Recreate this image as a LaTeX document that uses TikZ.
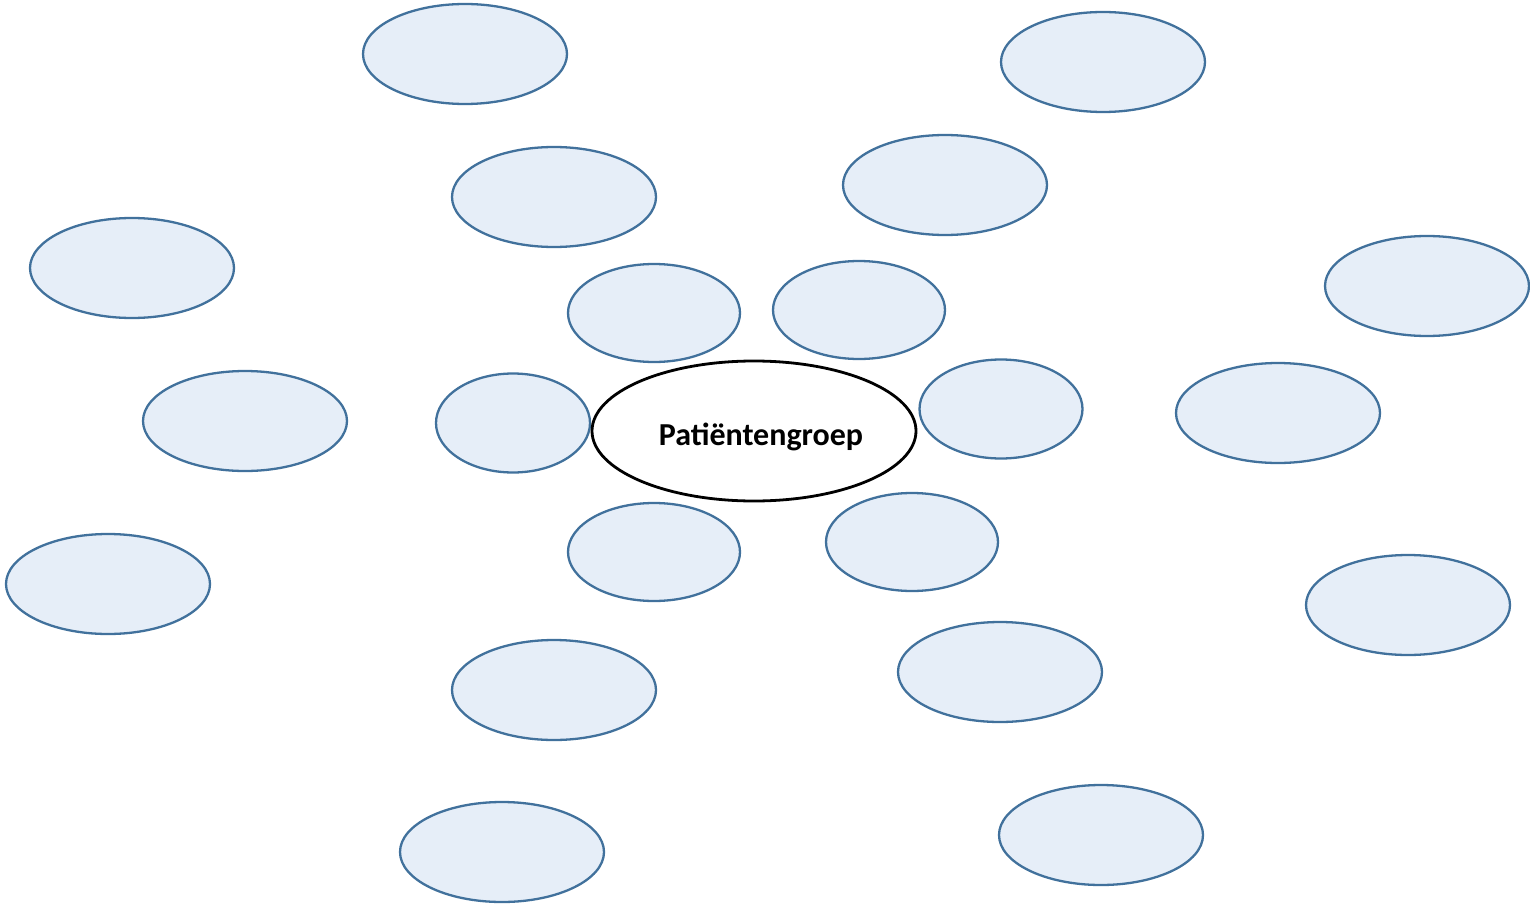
\documentclass[tikz,border=0pt]{standalone}
\usepackage{fontspec}
\setmainfont{Carlito}
\usetikzlibrary{shapes.geometric}
\definecolor{bubfill}{HTML}{E6EEF8}
\definecolor{bubline}{HTML}{41719C}
\tikzset{
  bub/.style={ellipse, draw=bubline, fill=bubfill, line width=2.3pt, inner sep=0pt, minimum width=204pt, minimum height=100pt},
  bubsmall/.style={bub, minimum width=172pt, minimum height=98pt},
  core/.style={ellipse, draw=black, fill=white, line width=2.8pt, inner sep=0pt, minimum width=324pt, minimum height=140pt},
  coretext/.style={inner sep=0pt, font=\bfseries\fontsize{32}{38}\selectfont}
}
\begin{document}
\begin{tikzpicture}[x=1pt,y=-1pt]
\useasboundingbox (0,0) rectangle (1530,904);
\node[bub] (b1) at (465,54) {};
\node[bub] (b2) at (1103,62) {};
\node[bub] (b3) at (554,197) {};
\node[bub] (b4) at (945,185) {};
\node[bub] (b5) at (132,268) {};
\node[bub] (b6) at (1427,286) {};
\node[bubsmall] (b7) at (654,313) {};
\node[bubsmall] (b8) at (859,310) {};
\node[bub] (b9) at (245,421) {};
\node[bub, minimum width=154pt, minimum height=99pt] (b10) at (513,423) {};
\node[bub, minimum width=163pt, minimum height=99pt] (b12) at (1001,409) {};
\node[bub] (b13) at (1278,413) {};
\node[bub] (b14) at (108,584) {};
\node[bubsmall] (b15) at (654,552) {};
\node[bubsmall] (b16) at (912,542) {};
\node[bub] (b17) at (1408,605) {};
\node[bub] (b18) at (554,690) {};
\node[bub] (b19) at (1000,672) {};
\node[bub] (b20) at (1101,835) {};
\node[bub] (b21) at (502,852) {};
\node[core] (c) at (754,431) {};
\node[coretext] (ct) at (761,437) {Patiëntengroep};
\end{tikzpicture}
\end{document}
